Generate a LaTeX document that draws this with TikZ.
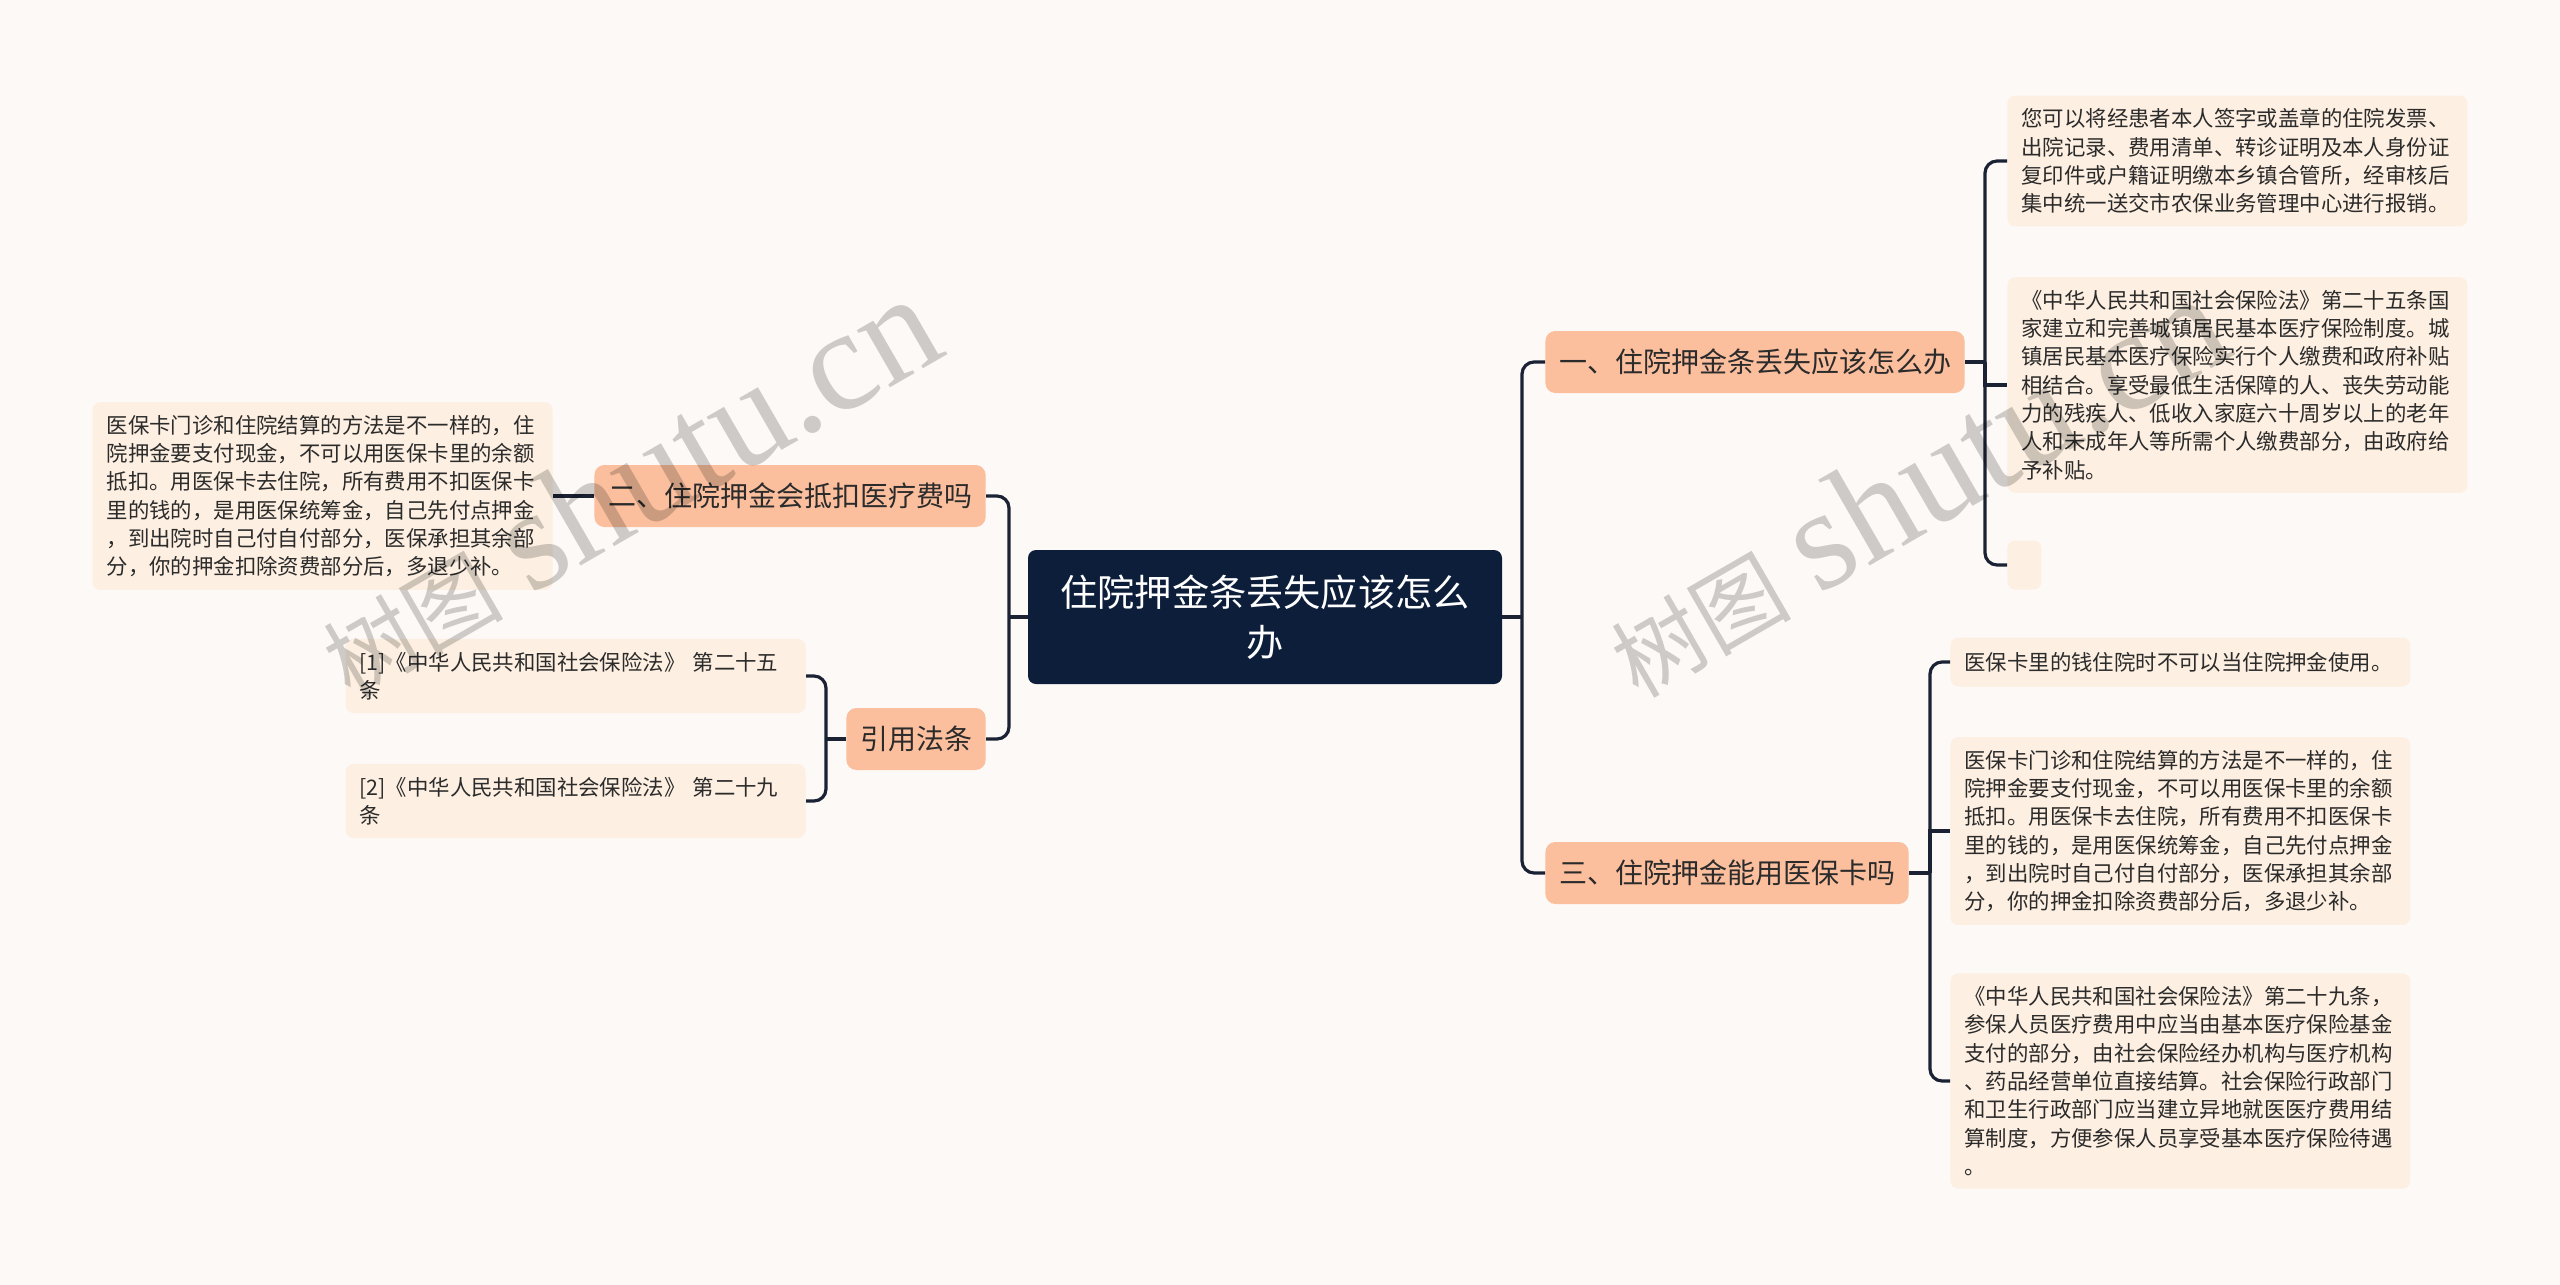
\documentclass[tikz,border=0pt]{standalone}
\usepackage{fontspec}
\setmainfont{Noto Sans CJK SC}
\newfontfamily\wmlatin{Liberation Serif}
\usepackage{tikz}

\definecolor{bgcol}{HTML}{FDF9F7}
\definecolor{leafcol}{HTML}{FDEFE1}
\definecolor{branchcol}{HTML}{FBBF9E}
\definecolor{rootcol}{HTML}{0D1E3A}
\definecolor{linkcol}{HTML}{1A2234}
\definecolor{txtcol}{HTML}{2B2B2B}

\begin{document}
\begin{tikzpicture}[x=0.5pt, y=-0.5pt,
	leaf/.style={fill=leafcol, rounded corners=4pt, text=txtcol, align=left, text width=216pt, inner xsep=7pt, inner ysep=6.5pt, font=\fontsize{10.7}{14.15}\selectfont},
	branch/.style={fill=branchcol, rounded corners=5pt, text=txtcol, minimum height=31pt, inner xsep=6.8pt, font=\fontsize{14}{17}\selectfont},
	link/.style={draw=linkcol, line width=1.6pt, rounded corners=6pt},
	wmark/.style={text=black, opacity=0.19, rotate=30, anchor=base west, inner sep=0pt}]

	% Page
	\useasboundingbox (0,0) rectangle (2560,1285);
	\fill[bgcol] (0,0) rectangle (2560,1285);

	%Centre
	\node[fill=rootcol, rounded corners=4pt, text=white, minimum width=237pt, minimum height=67pt, text width=206pt, align=center, font=\fontsize{18.6}{25}\selectfont] (root) at (1265,617) {住院押金条丢失应该怎么\\办};

	%Branches
	\node[branch, right] (b1) at (1545,362) {一、住院押金条丢失应该怎么办};
	\node[branch, right] (b3) at (1545,873) {三、住院押金能用医保卡吗};
	\node[branch, left] (b2) at (986,496) {二、住院押金会抵扣医疗费吗};
	\node[branch, left] (cite) at (986,739) {引用法条};

	%Leaves of b1
	\node[leaf, right] (l1a) at (2007,161) {您可以将经患者本人签字或盖章的住院发票、\\出院记录、费用清单、转诊证明及本人身份证\\复印件或户籍证明缴本乡镇合管所，经审核后\\集中统一送交市农保业务管理中心进行报销。};
	\node[leaf, right] (l1b) at (2007,385) {《中华人民共和国社会保险法》第二十五条国\\家建立和完善城镇居民基本医疗保险制度。城\\镇居民基本医疗保险实行个人缴费和政府补贴\\相结合。享受最低生活保障的人、丧失劳动能\\力的残疾人、低收入家庭六十周岁以上的老年\\人和未成年人等所需个人缴费部分，由政府给\\予补贴。};
	\node[fill=leafcol, rounded corners=4pt, minimum width=17pt, minimum height=24.5pt, right] (l1c) at (2007,565) {};

	%Leaves of b3
	\node[leaf, right, minimum height=24.5pt] (l3a) at (1950,662) {医保卡里的钱住院时不可以当住院押金使用。};
	\node[leaf, right] (l3b) at (1950,831) {医保卡门诊和住院结算的方法是不一样的，住\\院押金要支付现金，不可以用医保卡里的余额\\抵扣。用医保卡去住院，所有费用不扣医保卡\\里的钱的，是用医保统筹金，自己先付点押金\\，到出院时自己付自付部分，医保承担其余部\\分，你的押金扣除资费部分后，多退少补。};
	\node[leaf, right] (l3c) at (1950,1081) {《中华人民共和国社会保险法》第二十九条，\\参保人员医疗费用中应当由基本医疗保险基金\\支付的部分，由社会保险经办机构与医疗机构\\、药品经营单位直接结算。社会保险行政部门\\和卫生行政部门应当建立异地就医医疗费用结\\算制度，方便参保人员享受基本医疗保险待遇\\。};

	%Leaves on the left
	\node[leaf, left] (ll) at (553,496) {医保卡门诊和住院结算的方法是不一样的，住\\院押金要支付现金，不可以用医保卡里的余额\\抵扣。用医保卡去住院，所有费用不扣医保卡\\里的钱的，是用医保统筹金，自己先付点押金\\，到出院时自己付自付部分，医保承担其余部\\分，你的押金扣除资费部分后，多退少补。};
	\node[leaf, left] (r1) at (806,676) {[1]《中华人民共和国社会保险法》 第二十五\\条};
	\node[leaf, left] (r2) at (806,801) {[2]《中华人民共和国社会保险法》 第二十九\\条};

	%Joints
	\coordinate (rj) at (1522,617);
	\coordinate (lj) at (1009,617);
	\coordinate (t1) at (1985,362);
	\coordinate (t3) at (1930,873);
	\coordinate (tc) at (826,739);

	%Links
	\draw[link] (root.east) -- (rj);
	\draw[link] (b1.west) -| (rj) |- (b3.west);
	\draw[link] (root.west) -- (lj);
	\draw[link] (b2.east) -| (lj) |- (cite.east);
	\draw[link] (b1.east) -- (t1);
	\draw[link] (l1a.west) -| (t1) |- (l1c.west);
	\draw[link, sharp corners] (t1) |- (l1b.west);
	\draw[link] (b3.east) -- (t3);
	\draw[link] (l3a.west) -| (t3) |- (l3c.west);
	\draw[link, sharp corners] (t3) |- (l3b.west);
	\draw[link] (cite.west) -- (tc);
	\draw[link] (r1.east) -| (tc) |- (r2.east);
	\draw[link] (b2.west) -- (ll.east);

	%Watermarks
	\node[wmark] (wm1) at (350,700) {\fontsize{45}{45}\selectfont 树图\hspace{14pt}{\wmlatin\fontsize{72}{72}\selectfont shutu.cn}};
	\node[wmark] (wm2) at (1638,700) {\fontsize{45}{45}\selectfont 树图\hspace{14pt}{\wmlatin\fontsize{72}{72}\selectfont shutu.cn}};

\end{tikzpicture}
\end{document}
